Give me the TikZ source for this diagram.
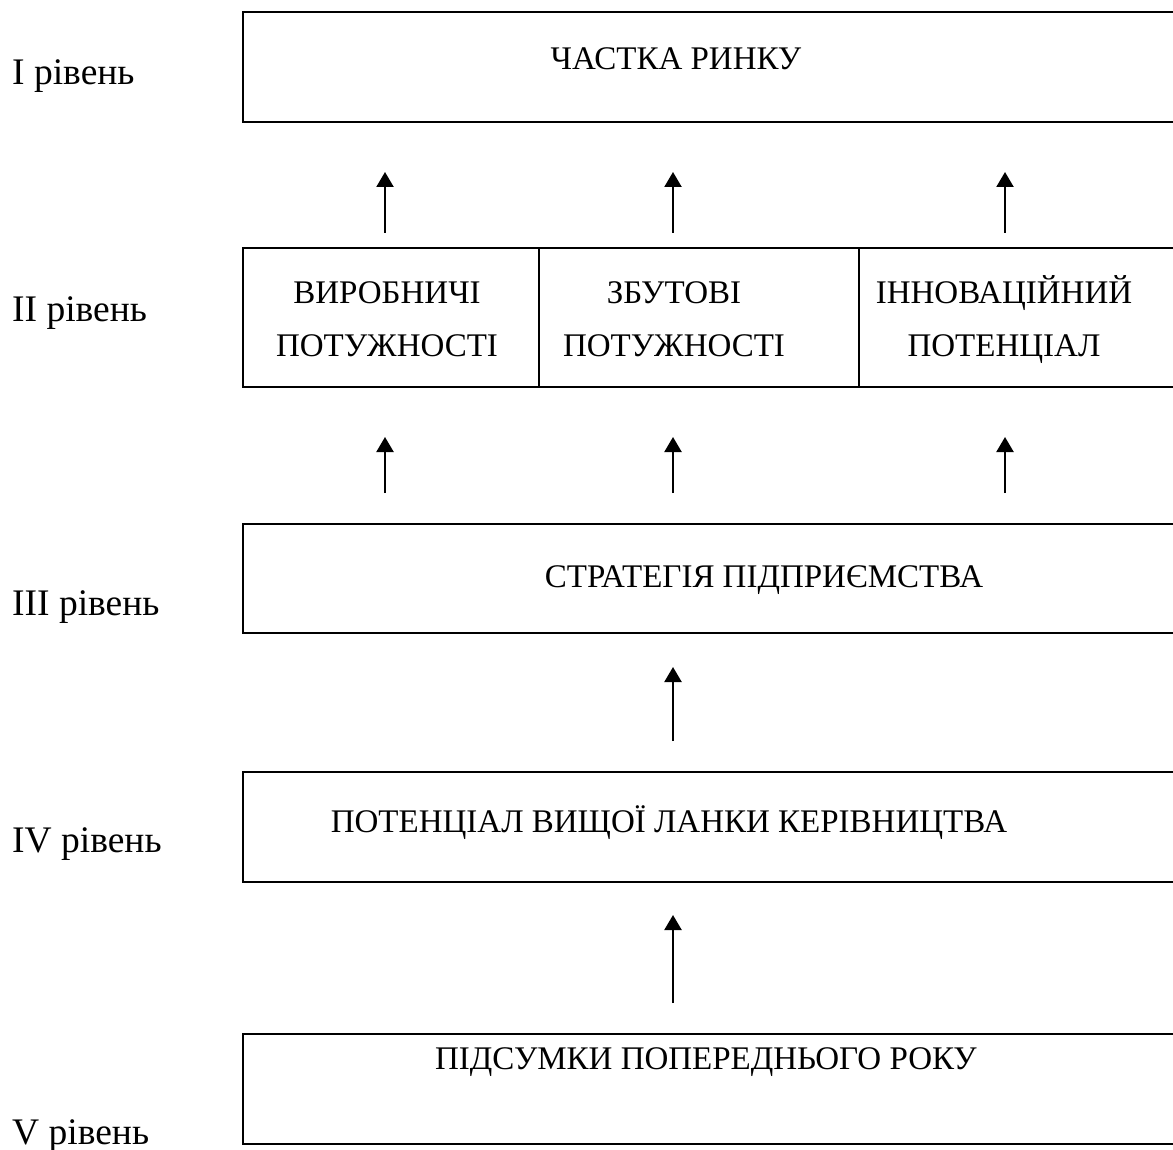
\documentclass[tikz,border=0pt]{standalone}
\usepackage{fontspec}
\setmainfont{Liberation Serif}
\usetikzlibrary{arrows.meta}
\begin{document}
\begin{tikzpicture}[x=1pt,y=-1pt,
  box/.style={draw, line width=2.2pt, minimum width=950pt, anchor=north west, inner sep=0pt, outer sep=0pt},
  cell/.style={draw, line width=2.2pt, anchor=north west, inner sep=0pt, outer sep=0pt, minimum height=139pt},
  btext/.style={anchor=base, inner sep=0pt, font=\fontsize{33}{38}\selectfont},
  lvl/.style={anchor=base west, inner sep=0pt, font=\fontsize{37.5}{44}\selectfont},
  arr/.style={line width=2.2pt, -{Triangle[width=17pt,length=15pt]}}]
\useasboundingbox (0,0) rectangle (1173,1150);
\clip (0,0) rectangle (1173,1150);
% level labels
\node[lvl] (l1) at (12,85) {I рівень};
\node[lvl] (l2) at (12,322) {II рівень};
\node[lvl] (l3) at (12,615) {III рівень};
\node[lvl] (l4) at (12,852) {IV рівень};
\node[lvl] (l5) at (12,1144) {V рівень};
% boxes
\node[box, minimum height=110pt] (b1) at (243,12) {};
\node[cell, minimum width=296pt] (c1) at (243,248) {};
\node[cell, minimum width=320pt] (c2) at (539,248) {};
\node[cell, minimum width=331pt] (c3) at (859,248) {};
\node[box, minimum height=109pt] (b3) at (243,524) {};
\node[box, minimum height=110pt] (b4) at (243,772) {};
\node[box, minimum height=110pt] (b5) at (243,1034) {};
% texts
\node[btext] (t1) at (676,70) {ЧАСТКА РИНКУ};
\node[btext] (t21) at (387,304) {ВИРОБНИЧІ};
\node[btext] (t22) at (387,356) {ПОТУЖНОСТІ};
\node[btext] (t23) at (674,304) {ЗБУТОВІ};
\node[btext] (t24) at (674,356) {ПОТУЖНОСТІ};
\node[btext] (t25) at (1004,304) {ІННОВАЦІЙНИЙ};
\node[btext] (t26) at (1004,356) {ПОТЕНЦІАЛ};
\node[btext] (t3) at (764,587) {СТРАТЕГІЯ ПІДПРИЄМСТВА};
\node[btext] (t4) at (669,832) {ПОТЕНЦІАЛ ВИЩОЇ ЛАНКИ КЕРІВНИЦТВА};
\node[btext] (t5) at (706,1069) {ПІДСУМКИ ПОПЕРЕДНЬОГО РОКУ};
% arrow end points
\coordinate (a1s) at (385,233); \coordinate (a1e) at (385,172);
\coordinate (a2s) at (673,233); \coordinate (a2e) at (673,172);
\coordinate (a3s) at (1005,233); \coordinate (a3e) at (1005,172);
\coordinate (a4s) at (385,493); \coordinate (a4e) at (385,437);
\coordinate (a5s) at (673,493); \coordinate (a5e) at (673,437);
\coordinate (a6s) at (1005,493); \coordinate (a6e) at (1005,437);
\coordinate (a7s) at (673,741); \coordinate (a7e) at (673,667);
\coordinate (a8s) at (673,1003); \coordinate (a8e) at (673,915);
\foreach \i in {1,...,8} {\draw[arr] (a\i s) -- (a\i e);}
\end{tikzpicture}
\end{document}
